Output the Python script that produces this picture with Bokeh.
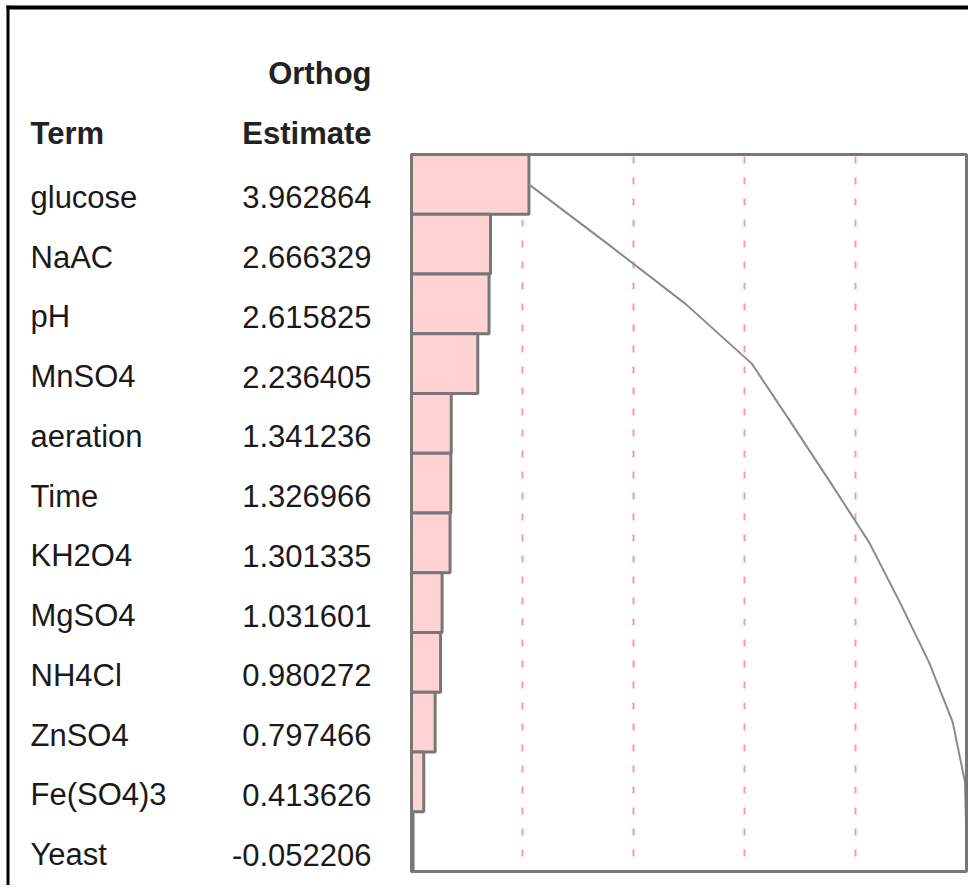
import numpy as np
from bokeh.plotting import figure
from bokeh.models import Range1d, ColumnDataSource
from bokeh.core.properties import value
from bokeh.embed import file_html
from bokeh.resources import INLINE

# ---- data ----
terms = ["glucose", "NaAC", "pH", "MnSO4", "aeration", "Time", "KH2O4",
         "MgSO4", "NH4Cl", "ZnSO4", "Fe(SO4)3", "Yeast"]
estimates = [3.962864, 2.666329, 2.615825, 2.236405, 1.341236, 1.326966,
             1.301335, 1.031601, 0.980272, 0.797466, 0.413626, -0.052206]
header_col1 = ["", "Term"]
header_col2 = ["Orthog", "Estimate"]
ref_fractions = [0.2, 0.4, 0.6, 0.8]

# ---- layout constants (pixels) ----
W, H = 968, 885
BOX_LEFT_PX, BOX_W_PX = 411, 555     # box left edge from figure left, box width
BOX_TOP_PX, ROW_PX = 154, 59.75      # box top from figure top, row height

absv = np.abs(estimates)
total = absv.sum()
k = BOX_W_PX / total
x0 = -BOX_LEFT_PX / k
x1 = x0 + W / k
y0 = -BOX_TOP_PX / ROW_PX
y1 = y0 + H / ROW_PX
n = len(terms)


def px_x(px):
    return x0 + px / k


def px_y(py):
    return y0 + py / ROW_PX


p = figure(width=W, height=H, output_backend="svg", toolbar_location=None,
           x_range=Range1d(x0, x1), y_range=Range1d(y1, y0),
           x_axis_location=None, y_axis_location=None, min_border=0,
           outline_line_color=None, background_fill_color="white",
           border_fill_color="white")
p.grid.visible = False

rows = np.arange(n) + 0.5
src = ColumnDataSource(dict(term=terms, est=[f"{v:.6f}" for v in estimates],
                            y=rows, right=absv, cum=np.cumsum(absv)))

# dashed reference lines
xs = [f * total for f in ref_fractions]
p.segment(x0=xs, x1=xs, y0=[0] * len(xs), y1=[n] * len(xs),
          line_color="#ff96a8", line_width=2, line_dash="7 14", line_dash_offset=-2)

# bars
p.hbar(y="y", left=0, right="right", height=1.0, source=src,
       fill_color="#ffd3d3", line_color="#777777", line_width=3)

# cumulative curve
p.line(x="cum", y="y", source=src, line_color="#8a8a8a", line_width=2)

# box
p.quad(left=[0], right=[total], top=[0], bottom=[n], fill_color=None,
       line_color="#777777", line_width=3)

# black frame lines (top and left)
p.segment(x0=[px_x(6)], x1=[x1], y0=[px_y(7)], y1=[px_y(7)],
          line_color="black", line_width=4)
p.segment(x0=[px_x(7.5)], x1=[px_x(7.5)], y0=[px_y(5)], y1=[y1],
          line_color="black", line_width=3)

FONT = value("Liberation Sans")
# table text
p.text(x=0, y="y", text="term", source=src, x_offset=-381, y_offset=13,
       text_font=FONT, text_font_size="31px", text_color="#1a1a1a",
       text_align="left", text_baseline="alphabetic")
p.text(x=0, y="y", text="est", source=src, x_offset=-40, y_offset=13,
       text_font=FONT, text_font_size="31px", text_color="#1a1a1a",
       text_align="right", text_baseline="alphabetic")

hy = [-1.5, -0.5]
p.text(x=[0, 0], y=hy, text=header_col1, x_offset=-381, y_offset=9,
       text_font=FONT, text_font_size="31px", text_font_style="bold",
       text_color="#222222", text_align="left", text_baseline="alphabetic")
p.text(x=[0, 0], y=hy, text=header_col2, x_offset=-40, y_offset=9,
       text_font=FONT, text_font_size="31px", text_font_style="bold",
       text_color="#222222", text_align="right", text_baseline="alphabetic")

open("out.html", "w").write(file_html(p, INLINE))
